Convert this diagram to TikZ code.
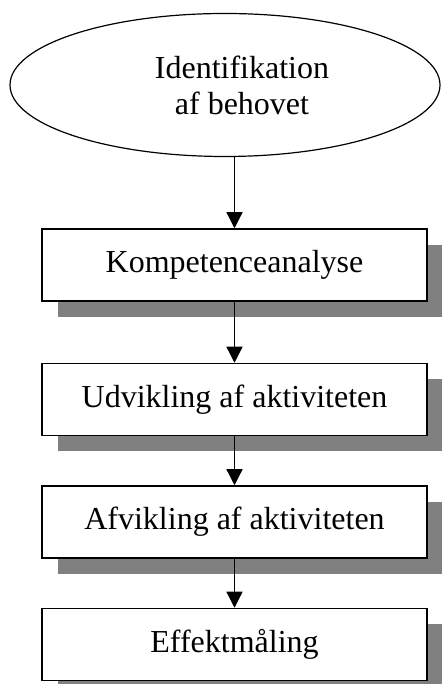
\documentclass[tikz,border=0pt]{standalone}
\usepackage{fontspec}
\setmainfont{Liberation Serif}
\usetikzlibrary{arrows.meta,shapes.geometric,positioning,shadows}

\begin{document}
\begin{tikzpicture}[
    font=\fontsize{32}{36}\selectfont,
    stage/.style={draw,line width=1.5pt,minimum width=385pt,
                  minimum height=72pt,inner sep=0pt,fill=white,
                  general shadow={fill=gray,shadow xshift=16pt,
                                  shadow yshift=-16pt}},
    need/.style={draw,ellipse,line width=1.2pt,minimum width=430pt,
                 minimum height=143pt,inner sep=0pt},
    arr/.style={-{Triangle[length=16pt,width=16pt]},line width=1.3pt},
  ]
    \useasboundingbox (0,0) rectangle (441pt,684pt);
    \node[need](need) at (225pt,599pt){};
    \node[align=center](needtxt) at ([xshift=17pt]need.center)
      {Identifikation\\af behovet};
    \node[stage](k1) at (234.5pt,419pt){Kompetenceanalyse};
    \node[stage,below=61pt of k1](k2){Udvikling af aktiviteten};
    \node[stage,below=49pt of k2](k3){Afvikling af aktiviteten};
    \node[stage,below=49pt of k3](k4){Effektmåling};
    \draw[arr](k1.north |- need.south)--(k1);
    \draw[arr](k1)--(k2); \draw[arr](k2)--(k3);
    \draw[arr](k3)--(k4);
  \end{tikzpicture}
\end{document}
